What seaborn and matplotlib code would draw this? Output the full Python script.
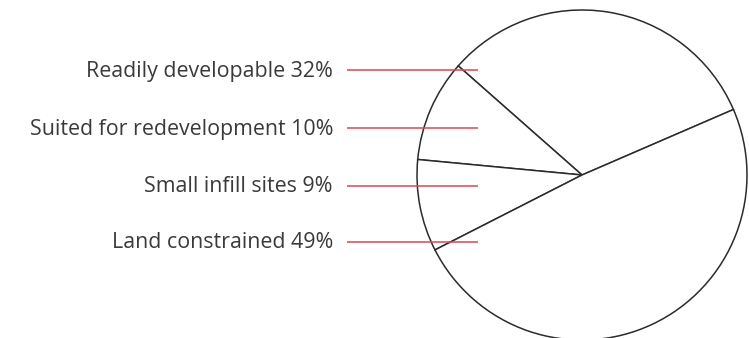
import matplotlib
matplotlib.use("Agg")
import matplotlib.pyplot as plt
import seaborn as sns

# Land supply breakdown
categories = ["Readily developable", "Suited for redevelopment",
              "Small infill sites", "Land constrained"]
shares = [32, 10, 9, 49]

sns.set_theme(style="white")
plt.rcParams["font.family"] = ["Open Sans", "DejaVu Sans"]

W, H = 749, 338
fig = plt.figure(figsize=(W / 100, H / 100), dpi=100)
ax = fig.add_axes([0, 0, 1, 1])

# Pie drawn in pixel-like coordinates (y upwards)
ax.pie(shares, startangle=23.4, counterclock=True,
       center=(582, H - 175), radius=165,
       wedgeprops=dict(facecolor="white", edgecolor="#2b2b2b", linewidth=1.1))
ax.set_xlim(0, W)
ax.set_ylim(0, H)
ax.set_aspect("equal")
ax.set_axis_off()

# Label rows with red leader lines
label_rows = [70, 128, 186, 242]
for name, val, y in zip(categories, shares, label_rows):
    yy = H - y
    ax.text(333, yy - 1, f"{name} {val}%", ha="right", va="center",
            fontsize=15.4, color="#3a3a3a")
    ax.plot([347, 478], [yy, yy], color="#e04452", linewidth=1.1,
            solid_capstyle="butt", zorder=5)

fig.savefig("out.png", dpi=100)
